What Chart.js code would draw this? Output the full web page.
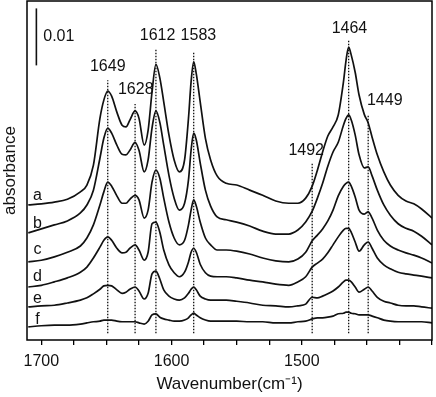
<!DOCTYPE html>
<html>
<head>
<meta charset="utf-8">
<script src="https://cdn.jsdelivr.net/npm/chart.js@4.4.0/dist/chart.umd.min.js"></script>
<style>
  html, body { margin: 0; padding: 0; background: #fff; }
</style>
</head>
<body>
<canvas id="spectra" width="436" height="397"></canvas>
<script>
// wavenumber grid (cm-1), shared by all six spectra
const wavenumbers = [1710, 1700, 1690, 1680, 1670, 1665, 1660, 1655, 1652, 1649, 1646, 1642, 1638, 1635, 1632, 1628,
  1625, 1621, 1618, 1615, 1612, 1609, 1606, 1602, 1598, 1594, 1590, 1587, 1585, 1583, 1581, 1578, 1574, 1570, 1565,
  1558, 1550, 1540, 1530, 1520, 1510, 1503, 1497, 1492, 1488, 1484, 1480, 1476, 1472, 1468, 1466, 1464, 1462, 1459,
  1456, 1452, 1449, 1446, 1442, 1437, 1432, 1426, 1420, 1414, 1408, 1400];

// absorbance in units of 0.001, stacked with offsets as in the figure
const traceA = [23.7, 23.9, 24.2, 24.7, 26.0, 27.2, 30.7, 38.9, 42.1, 43.7, 42.8, 40.0, 37.7, 37.4, 38.6, 40.2,
  38.9, 34.2, 36.8, 43.5, 48.4, 46.0, 41.8, 36.0, 31.6, 29.5, 31.6, 38.9, 45.3, 48.8, 46.7, 41.8, 35.4, 31.6, 28.8,
  27.5, 27.2, 26.3, 25.4, 24.4, 24.0, 24.0, 24.9, 27.0, 29.8, 33.0, 35.8, 37.4, 39.5, 45.3, 49.1, 51.4, 50.0, 47.0,
  43.0, 39.6, 38.1, 35.6, 32.5, 29.5, 27.2, 25.4, 24.4, 23.9, 23.0, 21.4];
const traceB = [18.8, 19.5, 20.2, 20.9, 22.3, 23.7, 26.3, 31.9, 35.4, 37.2, 36.3, 34.2, 32.6, 32.5, 33.3, 34.7,
  33.3, 29.5, 31.6, 37.2, 40.2, 38.2, 34.2, 28.9, 24.9, 22.8, 24.0, 28.1, 33.3, 36.3, 35.1, 31.1, 26.3, 23.5, 21.6,
  21.1, 20.7, 20.0, 19.1, 18.6, 18.6, 19.3, 20.7, 22.6, 24.9, 27.5, 30.5, 33.0, 34.7, 37.7, 38.9, 39.5, 38.6, 36.0,
  32.5, 30.2, 30.4, 28.8, 26.3, 23.7, 21.9, 20.4, 19.6, 19.1, 18.2, 16.7];
const traceC = [13.7, 14.0, 14.6, 15.4, 16.5, 17.9, 20.2, 23.7, 26.0, 27.7, 27.0, 25.3, 24.0, 24.0, 24.7, 25.4,
  24.6, 21.4, 22.8, 27.7, 29.8, 28.4, 24.9, 20.7, 17.9, 16.7, 17.5, 20.2, 22.8, 24.6, 23.5, 20.7, 17.9, 16.7, 15.8,
  15.8, 15.6, 15.1, 14.4, 13.9, 13.7, 14.2, 15.4, 17.4, 18.4, 19.5, 20.9, 22.8, 25.3, 27.0, 27.5, 27.7, 27.0, 25.1,
  22.8, 22.1, 22.5, 21.4, 19.3, 17.5, 16.5, 15.8, 15.3, 14.9, 14.4, 13.5];
const traceD = [9.3, 9.6, 10.2, 10.9, 11.9, 12.8, 14.4, 16.3, 17.5, 18.1, 17.5, 16.1, 15.3, 15.4, 16.1, 16.7,
  15.8, 14.0, 15.4, 20.4, 20.7, 18.9, 15.8, 13.2, 11.8, 11.1, 11.9, 13.7, 15.4, 16.1, 15.4, 13.3, 11.8, 11.2, 11.1,
  11.1, 10.9, 10.5, 10.2, 9.8, 9.6, 10.2, 11.1, 12.8, 13.5, 14.2, 15.3, 16.7, 18.1, 19.3, 19.6, 19.6, 18.9, 17.2,
  15.6, 16.7, 17.2, 16.1, 14.4, 13.2, 12.5, 11.9, 11.6, 11.4, 11.2, 10.9];
const traceE = [5.8, 6.0, 6.1, 6.5, 7.0, 7.4, 8.1, 8.9, 9.5, 9.6, 9.5, 8.8, 8.2, 8.4, 8.9, 9.3,
  8.6, 7.2, 8.2, 11.6, 12.1, 10.7, 8.8, 7.7, 7.2, 7.0, 7.4, 8.2, 8.9, 9.3, 8.8, 7.7, 7.2, 7.0, 7.0,
  7.0, 6.8, 6.5, 6.1, 6.0, 5.8, 6.0, 6.3, 7.5, 7.4, 7.7, 8.1, 8.6, 9.3, 10.2, 10.5, 10.5, 10.2, 9.3,
  8.4, 8.9, 9.3, 8.6, 7.5, 6.8, 6.5, 6.1, 6.0, 6.0, 5.8, 5.6];
const traceF = [2.3, 2.5, 2.6, 2.6, 2.8, 3.0, 3.2, 3.3, 3.5, 3.5, 3.5, 3.3, 3.2, 3.2, 3.2, 3.2,
  3.0, 2.8, 3.3, 4.4, 4.6, 4.0, 3.7, 3.5, 3.3, 3.3, 3.5, 3.9, 4.4, 4.7, 4.4, 3.9, 3.5, 3.3, 3.3,
  3.3, 3.3, 3.2, 3.2, 3.0, 3.0, 3.2, 3.3, 3.7, 3.9, 3.9, 4.0, 4.2, 4.6, 4.7, 4.9, 4.9, 4.7, 4.6,
  4.4, 4.4, 4.4, 4.2, 3.9, 3.5, 3.3, 3.2, 3.2, 3.2, 3.2, 3.0];

const traceNames = ['a', 'b', 'c', 'd', 'e', 'f'];
const traceNameY = [25.3, 20.4, 15.8, 11.2, 7.2, 3.5];
const traceNameX = 1703;

// marked bands: dotted line from the bottom up to lineTop, number written above
const peakPositions = [1649, 1628, 1612, 1583, 1492, 1464, 1449];
const peakLineTop = [45.6, 41.4, 51.2, 50.5, 31.1, 52.6, 39.5];
const peakLineBottom = 1.2;
const peakLabelX = [1649, 1627.5, 1610.7, 1579.4, 1496.6, 1463.4, 1436.3];
const peakLabelY = [47.9, 43.9, 53.5, 53.5, 33.3, 54.7, 42.1];

// 0.01 absorbance scale bar (10 units)
const scaleBarX = 1703.8;
const scaleBarRange = [48.2, 58.2];
const scaleBarText = '0.01';

const xTickLabels = [1700, 1600, 1500];
const xMin = 1400, xMax = 1711;
const yMin = 0, yMax = 59.5;
const xMinorStep = 25;

const INK = '#111';
const FONT = '"Liberation Sans", Arial, sans-serif';

const toPoints = (ys) => wavenumbers.map((w, i) => ({ x: w, y: ys[i] }));

const datasets = [traceA, traceB, traceC, traceD, traceE, traceF].map((ys, i) => ({
    label: traceNames[i],
    data: toPoints(ys),
    borderColor: INK,
    borderWidth: 1.7,
    pointRadius: 0,
    cubicInterpolationMode: 'monotone',
    fill: false,
}));

peakPositions.forEach((w, i) => {
    datasets.push({
        label: 'peak ' + w,
        data: [{ x: w, y: peakLineBottom }, { x: w, y: peakLineTop[i] }],
        borderColor: INK,
        borderWidth: 1.3,
        borderDash: [1.5, 1.5],
        pointRadius: 0,
    });
});

datasets.push({
    label: 'scale bar',
    data: [{ x: scaleBarX, y: scaleBarRange[0] }, { x: scaleBarX, y: scaleBarRange[1] }],
    borderColor: INK,
    borderWidth: 1.6,
    pointRadius: 0,
});

// frame round the plot plus the text annotations
const frameAndText = {
    id: 'frameAndText',
    afterDatasetsDraw(chart) {
        const { ctx, chartArea: a, scales: { x, y } } = chart;
        ctx.save();
        ctx.strokeStyle = '#000';
        ctx.lineWidth = 1.5;
        ctx.strokeRect(a.left, a.top, a.right - a.left, a.bottom - a.top);

        ctx.fillStyle = INK;
        ctx.textBaseline = 'middle';
        ctx.font = '16px ' + FONT;
        ctx.textAlign = 'center';
        peakPositions.forEach((w, i) => {
            ctx.fillText(String(w), x.getPixelForValue(peakLabelX[i]), y.getPixelForValue(peakLabelY[i]));
        });
        traceNames.forEach((n, i) => {
            ctx.fillText(n, x.getPixelForValue(traceNameX), y.getPixelForValue(traceNameY[i]));
        });
        ctx.textAlign = 'left';
        ctx.fillText(scaleBarText, x.getPixelForValue(1698.5), y.getPixelForValue(53.2));
        ctx.restore();
    }
};

new Chart(document.getElementById('spectra').getContext('2d'), {
    type: 'line',
    data: { datasets },
    options: {
        responsive: false,
        animation: false,
        layout: { padding: { left: 0, right: 4, top: 1, bottom: 0 } },
        plugins: {
            legend: { display: false },
            tooltip: { enabled: false },
        },
        scales: {
            x: {
                type: 'linear',
                reverse: true,
                min: xMin,
                max: xMax,
                afterBuildTicks: (scale) => {
                    const ticks = [];
                    for (let v = xMin; v <= xMax; v += xMinorStep) ticks.push({ value: v });
                    scale.ticks = ticks;
                },
                afterFit: (scale) => { scale.height = 57; },
                ticks: {
                    autoSkip: false,
                    maxRotation: 0,
                    padding: 7,
                    color: INK,
                    font: { family: FONT, size: 16 },
                    callback: (v) => (xTickLabels.includes(v) ? String(v) : ''),
                },
                grid: {
                    drawOnChartArea: false,
                    drawTicks: true,
                    tickLength: 5,
                    color: '#000',
                    lineWidth: 1.3,
                },
                border: { display: false },
                title: {
                    display: true,
                    text: 'Wavenumber(cm\u207B\u00B9)',
                    color: INK,
                    font: { family: FONT, size: 17 },
                    padding: { top: 0, bottom: 2 },
                },
            },
            y: {
                min: yMin,
                max: yMax,
                afterFit: (scale) => { scale.width = 27; },
                ticks: { display: false },
                grid: { display: false },
                border: { display: false },
                title: {
                    display: true,
                    text: 'absorbance',
                    color: INK,
                    font: { family: FONT, size: 17 },
                    padding: 0,
                },
            },
        },
    },
    plugins: [frameAndText],
});
</script>
</body>
</html>
